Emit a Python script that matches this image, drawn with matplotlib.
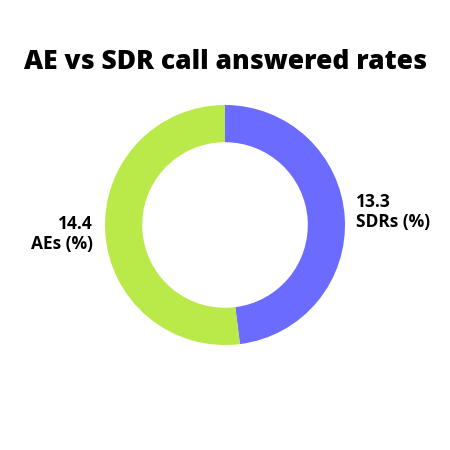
import matplotlib.pyplot as plt

# answered call rates
groups = ['SDRs (%)', 'AEs (%)']
rates = [13.3, 14.4]
colours = ['#6b6bff', '#b9ea4a']

plt.rcParams['font.family'] = ['Open Sans', 'DejaVu Sans']

fig = plt.figure(figsize=(4.5, 4.5), dpi=100)
# axes box = 240px square, centred on the donut
ax = fig.add_axes([105/450, 105/450, 240/450, 240/450])

wedges, _ = ax.pie(rates, colors=colours, startangle=90, counterclock=False,
                   wedgeprops=dict(width=0.31, edgecolor='none'))
ax.set_xlim(-1, 1)
ax.set_ylim(-1, 1)
ax.set_aspect('equal')

# label spots beside the ring (right side, left side)
spots = [(1.09, 0.11, 'left'), (-1.10, -0.075, 'right')]
for (x, y, ha), g, r in zip(spots, groups, rates):
    ax.text(x, y, f"{r}\n{g}", ha=ha, va='center', fontsize=12.5,
            fontweight='bold', linespacing=1.15)

fig.text(0.5, 0.863, 'AE vs SDR call answered rates', ha='center', va='center',
         fontsize=19, fontweight='heavy')

plt.savefig('out.png', dpi=100)
